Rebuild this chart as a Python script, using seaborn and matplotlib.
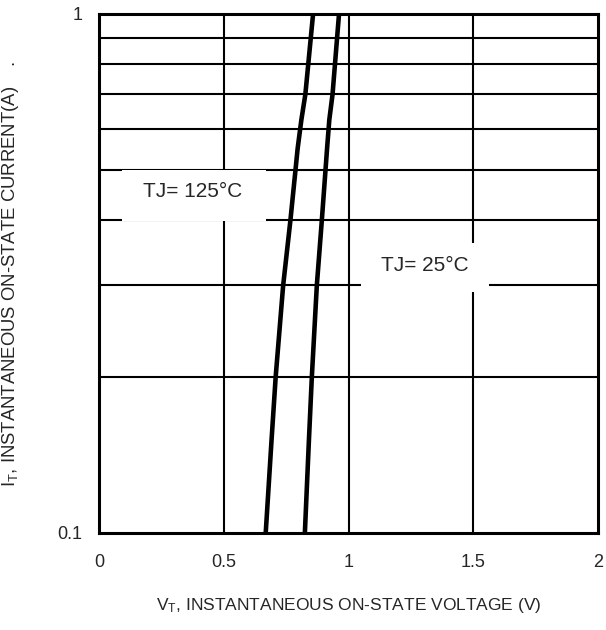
import numpy as np
import pandas as pd
import matplotlib
matplotlib.use("Agg")
import matplotlib.pyplot as plt
import matplotlib.ticker as mticker
from matplotlib.patches import Rectangle
import seaborn as sns

# forward characteristic
current = [0.1, 0.15, 0.2, 0.3, 0.4, 0.55, 0.625, 0.7, 1.0]
volt_125 = [0.667, 0.690, 0.707, 0.737, 0.766, 0.795, 0.810, 0.826, 0.857]
volt_25 = [0.824, 0.840, 0.852, 0.872, 0.892, 0.913, 0.922, 0.935, 0.961]
series_names = ["TJ= 125°C", "TJ= 25°C"]

x_ticks = [0, 0.5, 1, 1.5, 2]
y_ticks = [0.1, 1]
y_grid = [0.2, 0.3, 0.4, 0.5, 0.6, 0.7, 0.8, 0.9]

sns.set_style("white")
plt.rcParams['font.family'] = ['Liberation Sans', 'DejaVu Sans']
plt.rcParams['mathtext.default'] = 'regular'

df = pd.concat([
    pd.DataFrame({"V": volt_125, "I": current, "curve": series_names[0]}),
    pd.DataFrame({"V": volt_25, "I": current, "curve": series_names[1]}),
])

fig = plt.figure(figsize=(6.06, 6.3), dpi=100)
ax = fig.add_axes([0.164, 0.154, 0.823, 0.824])

ax.set_yscale("log")
ax.set_xlim(0, 2)
ax.set_ylim(0.1, 1)

# grid lines drawn by hand so they sit on the minor log positions
for xv in x_ticks[1:-1]:
    ax.axvline(xv, color="black", lw=1.5, zorder=1)
for yv in y_grid:
    ax.axhline(yv, color="black", lw=1.5, zorder=1)

sns.lineplot(data=df, x="V", y="I", units="curve", estimator=None, sort=False,
             color="black", linewidth=3.3, legend=False, ax=ax, zorder=3)

# white label boxes covering the grid
ax.add_patch(Rectangle((0.045, 0.601), 0.289, 0.098, transform=ax.transAxes,
                       facecolor="white", edgecolor="none", zorder=2))
ax.add_patch(Rectangle((0.525, 0.464), 0.256, 0.095, transform=ax.transAxes,
                       facecolor="white", edgecolor="none", zorder=2))
ax.text(0.186, 0.658, series_names[0], transform=ax.transAxes, fontsize=15,
        ha="center", va="center", zorder=4)
ax.text(0.653, 0.516, series_names[1], transform=ax.transAxes, fontsize=15,
        ha="center", va="center", zorder=4)

ax.set_xticks(x_ticks)
ax.set_xticklabels(["0", "0.5", "1", "1.5", "2"])
ax.yaxis.set_major_locator(mticker.FixedLocator(y_ticks))
ax.yaxis.set_minor_locator(mticker.NullLocator())
ax.set_yticklabels(["0.1", "1"])
ax.tick_params(axis="both", length=0, labelsize=13)
ax.tick_params(axis="x", pad=15)
ax.tick_params(axis="y", pad=12)

for sp in ax.spines.values():
    sp.set_color("black")
    sp.set_linewidth(2.2)
    sp.set_zorder(5)

ax.set_xlabel("V$_T$, INSTANTANEOUS ON-STATE VOLTAGE (V)", fontsize=12.5)
ax.set_ylabel("I$_T$, INSTANTANEOUS ON-STATE CURRENT(A)    .", fontsize=13.3)
ax.xaxis.set_label_coords(0.5, -0.121)
ax.yaxis.set_label_coords(-0.157, 0.5)

fig.savefig("out.png", dpi=100)
